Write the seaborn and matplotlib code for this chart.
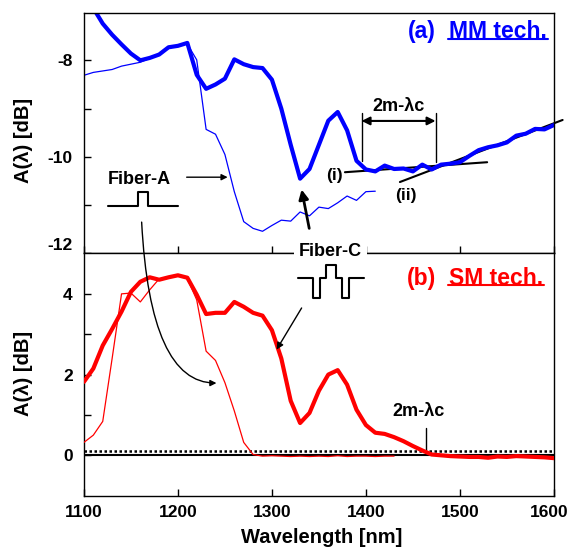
import numpy as np
import pandas as pd
import matplotlib
matplotlib.use("Agg")
import matplotlib.pyplot as plt
from matplotlib.lines import Line2D
from matplotlib.transforms import ScaledTranslation
import seaborn as sns

# wavelength grids (nm)
wl_full = np.arange(1100, 1610, 10)
wl_a_mm = np.arange(1100, 1420, 10)
wl_a_sm = np.arange(1100, 1440, 10)

# (a) MM technique, A(lambda) in dB
mm_fiber_c = [-6.70, -6.92, -7.24, -7.47, -7.67, -7.86, -8.00, -7.95, -7.88, -7.73,
              -7.70, -7.64, -8.30, -8.59, -8.50, -8.38, -7.98, -8.08, -8.14, -8.16,
              -8.40, -9.00, -9.75, -10.45, -10.25, -9.75, -9.25, -9.07, -9.45, -10.08,
              -10.26, -10.30, -10.18, -10.25, -10.24, -10.30, -10.16, -10.26, -10.16, -10.14,
              -10.11, -9.98, -9.86, -9.80, -9.76, -9.70, -9.56, -9.52, -9.42, -9.43, -9.34]
mm_fiber_a = [-8.31, -8.25, -8.22, -8.19, -8.12, -8.08, -8.04, -7.96, -7.88, -7.75,
              -7.70, -7.66, -7.99, -9.43, -9.53, -9.95, -10.72, -11.34, -11.48, -11.54,
              -11.42, -11.31, -11.33, -11.14, -11.22, -11.04, -11.07, -10.95, -10.81, -10.90,
              -10.72, -10.71]

# (b) SM technique, A(lambda) in dB
sm_fiber_c = [1.82, 2.15, 2.72, 3.13, 3.56, 4.05, 4.30, 4.41, 4.35, 4.41,
              4.46, 4.40, 3.98, 3.50, 3.53, 3.53, 3.80, 3.68, 3.53, 3.46,
              3.10, 2.40, 1.35, 0.80, 1.05, 1.60, 2.00, 2.11, 1.75, 1.13,
              0.75, 0.56, 0.53, 0.45, 0.35, 0.23, 0.12, 0.02, 0.00, -0.02,
              -0.03, -0.04, -0.04, -0.06, -0.03, -0.04, -0.02, -0.03, -0.04, -0.05, -0.07]
sm_fiber_a = [0.32, 0.50, 0.84, 2.40, 4.00, 4.02, 3.80, 4.10, 4.37, 4.40,
              4.45, 4.38, 3.85, 2.58, 2.35, 1.80, 1.10, 0.32, 0.02, -0.02,
              -0.01, -0.02, -0.03, -0.02, -0.03, -0.02, -0.03, -0.01, -0.03, -0.02,
              -0.02, -0.03, -0.02, -0.02]

threshold = 0.1

sns.set_style("ticks")
plt.rcParams["font.family"] = ["Liberation Sans", "DejaVu Sans"]
plt.rcParams["font.weight"] = "bold"
plt.rcParams["axes.labelweight"] = "bold"
for key in ("text.color", "axes.labelcolor", "xtick.color", "ytick.color", "axes.edgecolor"):
    plt.rcParams[key] = "black"

W, H = 571, 551
fig, (ax1, ax2) = plt.subplots(2, 1, sharex=True, figsize=(W / 100, H / 100), dpi=100,
                               gridspec_kw={"height_ratios": [240.5, 242.2]})
fig.subplots_adjust(left=0.147, right=0.970, top=0.9764, bottom=0.1004, hspace=0)

df_mm_c = pd.DataFrame({"wl": wl_full, "A": mm_fiber_c})
df_mm_a = pd.DataFrame({"wl": wl_a_mm, "A": mm_fiber_a})
df_sm_c = pd.DataFrame({"wl": wl_full, "A": sm_fiber_c})
df_sm_a = pd.DataFrame({"wl": wl_a_sm, "A": sm_fiber_a})

sns.lineplot(data=df_mm_a, x="wl", y="A", ax=ax1, color="#0000ff", lw=0.9, sort=False, estimator=None)
sns.lineplot(data=df_mm_c, x="wl", y="A", ax=ax1, color="#0000ff", lw=3.0, sort=False, estimator=None)

ax2.axhline(0, color="black", lw=1.5, zorder=1)
ax2.axhline(threshold, color="black", lw=1.8, ls=(0, (1, 1)), zorder=1)
sns.lineplot(data=df_sm_a, x="wl", y="A", ax=ax2, color="#ff0000", lw=0.9, sort=False, estimator=None, zorder=3)
sns.lineplot(data=df_sm_c, x="wl", y="A", ax=ax2, color="#ff0000", lw=3.0, sort=False, estimator=None, zorder=3)

ax1.set_ylim(-12, -7.02)
ax2.set_ylim(-1, 5)
ax2.set_xlim(1100, 1600)
ax2.set_xticks([1100, 1200, 1300, 1400, 1500, 1600])
ax1.set_yticks([-12, -11, -10, -9, -8], labels=["-12", "", "-10", "", "-8"])
ax2.set_yticks([0, 1, 2, 3, 4], labels=["0", "", "2", "", "4"])

for ax in (ax1, ax2):
    ax.tick_params(direction="in", length=5, width=1, labelsize=12.5, pad=8,
                   top=False, right=False)
    for s in ax.spines.values():
        s.set_linewidth(1.0)
        s.set_color("black")
    ax.set_ylabel("A(\u03bb) [dB]", fontsize=14.5)
ax1.tick_params(axis="x", labelbottom=False)
ax2.tick_params(axis="x", pad=7)
for lbl in ax1.get_yticklabels():
    if lbl.get_text() == "-12":
        lbl.set_va("bottom")
for lbl in ax2.get_xticklabels():
    if lbl.get_text() == "1600":
        lbl.set_transform(lbl.get_transform() + ScaledTranslation(-0.05, 0, fig.dpi_scale_trans))
ax1.yaxis.set_label_coords(-0.108, 0.47)
ax2.yaxis.set_label_coords(-0.108, 0.505)
ax2.set_xlabel("Wavelength [nm]", fontsize=14.5)
ax2.xaxis.set_label_coords(0.506, -0.135)

# panel titles
ax1.text(0.718, 0.922, "(a)", transform=ax1.transAxes, color="#0000ff", fontsize=16.5,
         ha="center", va="center")
ax1.text(0.8805, 0.922, "MM tech.", transform=ax1.transAxes, color="#0000ff", fontsize=16.5,
         ha="center", va="center")
ax1.plot([0.774, 0.987], [0.891, 0.891], transform=ax1.transAxes, color="#0000ff", lw=1.5, clip_on=False)
ax2.text(0.718, 0.8976, "(b)", transform=ax2.transAxes, color="#ff0000", fontsize=16.5,
         ha="center", va="center")
ax2.text(0.876, 0.8976, "SM tech.", transform=ax2.transAxes, color="#ff0000", fontsize=16.5,
         ha="center", va="center")
ax2.plot([0.774, 0.979], [0.870, 0.870], transform=ax2.transAxes, color="#ff0000", lw=1.5, clip_on=False)

# 2m-lambda_c in (a)
ax1.text(1435, -8.95, "2m-\u03bbc", fontsize=13, ha="center", va="center")
ax1.plot([1395.4, 1395.4], [-9.10, -10.08], color="black", lw=1)
ax1.plot([1474.1, 1474.1], [-9.10, -10.11], color="black", lw=1)
ax1.annotate("", xy=(1474.1, -9.255), xytext=(1395.4, -9.255),
             arrowprops=dict(arrowstyle="<|-|>", color="black", lw=1.5, mutation_scale=12,
                             shrinkA=0, shrinkB=0))
ax1.plot([1377.7, 1529], [-10.317, -10.11], color="black", lw=1.5, zorder=1)
ax1.plot([1436.2, 1609.3], [-10.52, -9.235], color="black", lw=1.5, zorder=1, clip_on=False)
ax1.text(1367, -10.39, "(i)", fontsize=12.5, ha="center", va="center")
ax1.text(1442.4, -10.80, "(ii)", fontsize=12.5, ha="center", va="center")

# Fiber-A
ax1.text(1158.5, -10.47, "Fiber-A", fontsize=13, ha="center", va="center")
ax1.annotate("", xy=(1252.9, -10.42), xytext=(1209.3, -10.42),
             arrowprops=dict(arrowstyle="-|>", color="black", lw=1, mutation_scale=9,
                             shrinkA=0, shrinkB=0))
ax2.annotate("", xy=(1241, 1.79), xycoords="data", xytext=(1161.4, -11.35), textcoords=ax1.transData,
             arrowprops=dict(arrowstyle="-|>", color="black", lw=1, mutation_scale=9,
                             shrinkA=0, shrinkB=0, connectionstyle="angle3,angleA=-87,angleB=0"))

# Fiber-C
fig.text(330.5 / W, 1 - 251.0 / H, "Fiber-C", fontsize=13, ha="center", va="center", zorder=10,
         bbox=dict(boxstyle="square,pad=0.25", fc="white", ec="none"))
ax1.annotate("", xy=(1331.6, -10.675), xytext=(1339.7, -11.48),
             arrowprops=dict(arrowstyle="-|>", color="black", lw=2, mutation_scale=14,
                             shrinkA=0, shrinkB=0))
ax2.annotate("", xy=(1305, 2.62), xytext=(1331.6, 3.65),
             arrowprops=dict(arrowstyle="-|>", color="black", lw=1, mutation_scale=10,
                             shrinkA=0, shrinkB=0))

# 2m-lambda_c in (b)
ax2.text(1456.4, 1.09, "2m-\u03bbc", fontsize=13, ha="center", va="center")
ax2.plot([1463.8, 1463.8], [0.68, 0.10], color="black", lw=1)

# index profiles (figure pixels)
prof_a_x = [108.3, 137.7, 137.7, 148.3, 148.3, 178.3]
prof_a_y = [205.7, 205.7, 192.3, 192.3, 205.7, 205.7]
prof_c_x = [298, 313, 313, 320, 320, 326, 326, 336, 336, 342, 342, 349, 349, 364]
prof_c_y = [277.5, 277.5, 297.5, 297.5, 277.5, 277.5, 264.5, 264.5, 277.5, 277.5, 297.5, 297.5, 277.5, 277.5]
for px, py in ((prof_a_x, prof_a_y), (prof_c_x, prof_c_y)):
    fig.add_artist(Line2D(np.array(px) / W, 1 - np.array(py) / H, color="black", lw=1.5,
                          transform=fig.transFigure, zorder=12))

plt.savefig("out.png", dpi=100)
